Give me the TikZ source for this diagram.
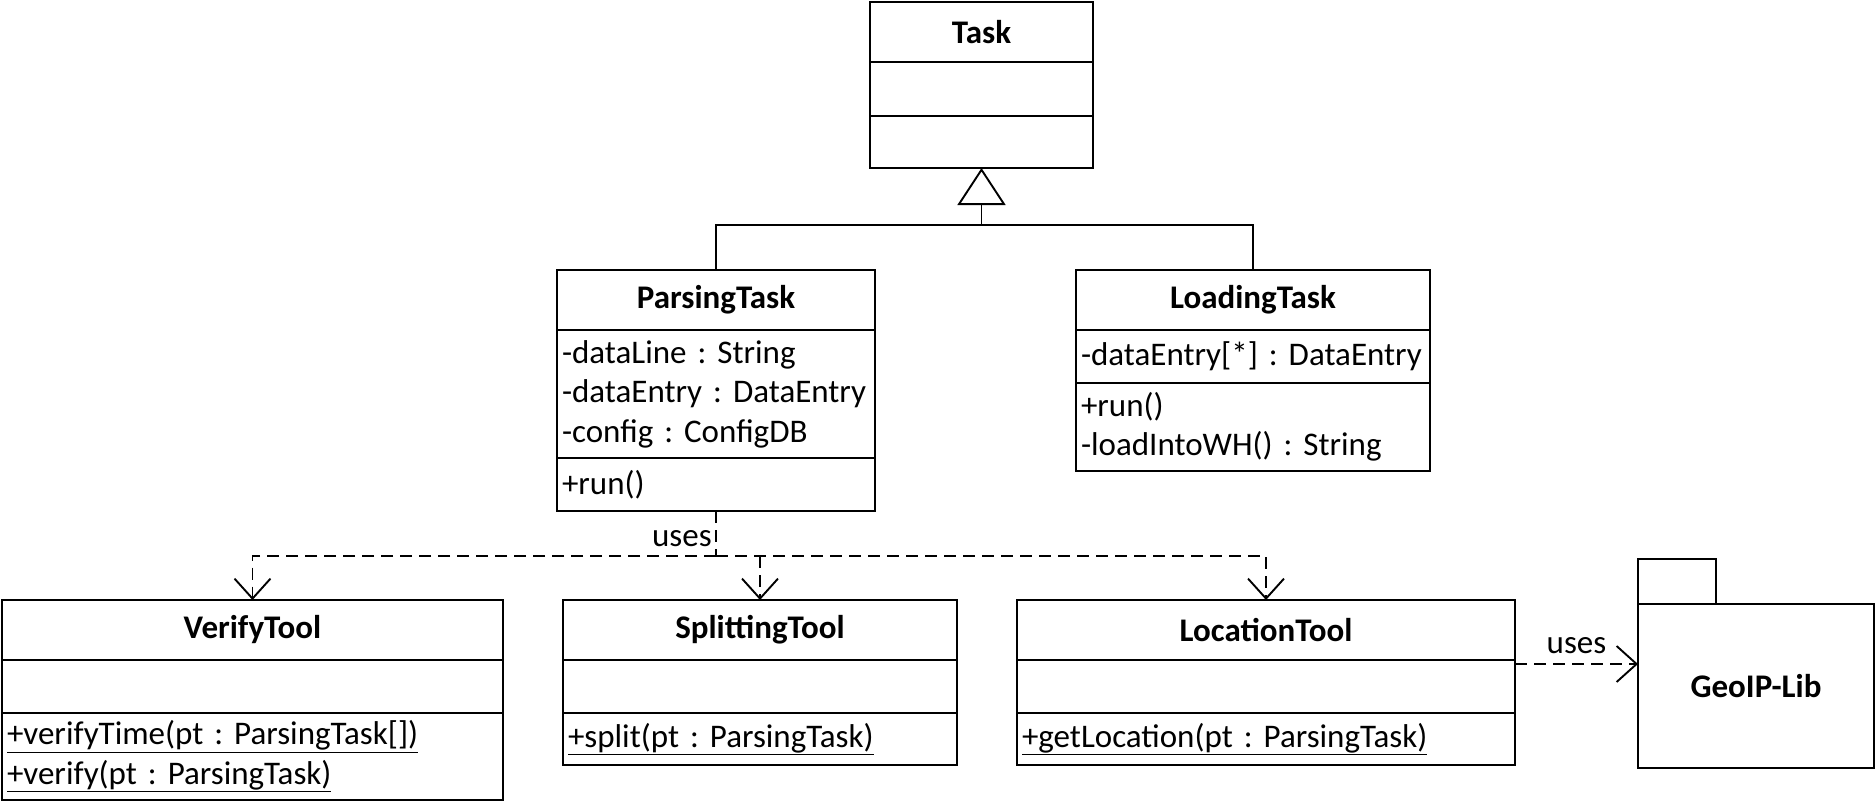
\documentclass[tikz,border=0pt]{standalone}
\usepackage{fontspec}
\setmainfont{Carlito}
\usetikzlibrary{positioning,arrows.meta}
\newcommand\umlfont{\fontsize{33}{39.5}\selectfont\frenchspacing}
\tikzset{
  umlbox/.style={
      draw,
      line width=2.8pt,
      outer sep=0pt,
      minimum width=#1,
      text width={#1-10},
      inner xsep=5pt,
      inner ysep=0pt,
      anchor=north,
      font=\umlfont
    },
  umltitle/.style={umlbox=#1, align=center, font=\umlfont\bfseries},
  umlpart/.style={umlbox=#1, align=left},
  dep/.style={line width=1.9pt, dash pattern=on 12pt off 7pt},
  pkgbox/.style={draw, line width=2.8pt, outer sep=0pt, inner sep=0pt}
}
\begin{document}
\begin{tikzpicture}[x=1pt,y=-1pt,>={Straight Barb[length=20pt,width=36pt]}]
\useasboundingbox (0,0) rectangle (1876,804);
% the classes
\node[umltitle=223,minimum height=60] at (981.5,2) (task) {Task};
\node[umlpart=223,minimum height=54,below=0pt of task] (task-a) {};
\node[umlpart=223,minimum height=52,below=0pt of task-a] (task-m) {};

\node[umltitle=318,minimum height=60] at (716,270) (parse) {ParsingTask};
\node[umlpart=318,minimum height=128,below=0pt of parse] (parse-a)
  {-dataLine : String\\-dataEntry : DataEntry\\-config : ConfigDB};
\node[umlpart=318,minimum height=53,below=0pt of parse-a] (parse-m) {+run()};

\node[umltitle=354,minimum height=60] at (1253,270) (load) {LoadingTask};
\node[umlpart=354,minimum height=53,below=0pt of load] (load-a)
  {-dataEntry[*] : DataEntry};
\node[umlpart=354,minimum height=88,below=0pt of load-a] (load-m)
  {+run()\\-loadIntoWH() : String};

\node[umltitle=501,minimum height=60] at (252.5,600) (verify) {VerifyTool};
\node[umlpart=501,minimum height=53,below=0pt of verify] (verify-a) {};
\node[umlpart=501,minimum height=87,below=0pt of verify-a] (verify-m)
  {\underline{+verifyTime(pt : ParsingTask[])}\\\underline{+verify(pt : ParsingTask)}};

\node[umltitle=394,minimum height=60] at (760,600) (split) {SplittingTool};
\node[umlpart=394,minimum height=53,below=0pt of split] (split-a) {};
\node[umlpart=394,minimum height=52,below=0pt of split-a] (split-m)
  {\underline{+split(pt : ParsingTask)}};

\node[umltitle=498,minimum height=60] at (1266,600) (loc) {LocationTool};
\node[umlpart=498,minimum height=53,below=0pt of loc] (loc-a) {};
\node[umlpart=498,minimum height=52,below=0pt of loc-a] (loc-m)
  {\underline{+getLocation(pt : ParsingTask)}};

% the package
\node[pkgbox,minimum width=236,minimum height=164,anchor=north west,font=\umlfont\bfseries]
  at (1638,604) (pkg) {GeoIP-Lib};
\node[pkgbox,minimum width=78,minimum height=45,above right=0pt of pkg.north west] (pkg-tab) {};

%the arrows
\path
  (981.5,225) coordinate (inh)
  (716,556) coordinate (bus);
\draw[line width=1.9pt] (parse.north) |- (inh) -| (load.north);
\draw[line width=1.9pt,-{Triangle[open,length=37pt,width=48pt]}] (inh) -- (task-m.south);
\draw[dep]
  (parse-m.south) --
    node[left,pos=0.62,font=\umlfont] {uses}
  (bus);
\draw[dep,->] (bus) -| (verify.north);
\draw[dep,->] (bus) -| (loc.north);
\draw[dep,->] (bus -| split.north) -- (split.north);
\draw[dep,->]
  ([yshift=-4pt]loc.south east) --
    node[above,yshift=6pt,font=\umlfont] {uses}
  ([yshift=-4pt]loc.south east -| pkg.west);
\end{tikzpicture}
\end{document}
